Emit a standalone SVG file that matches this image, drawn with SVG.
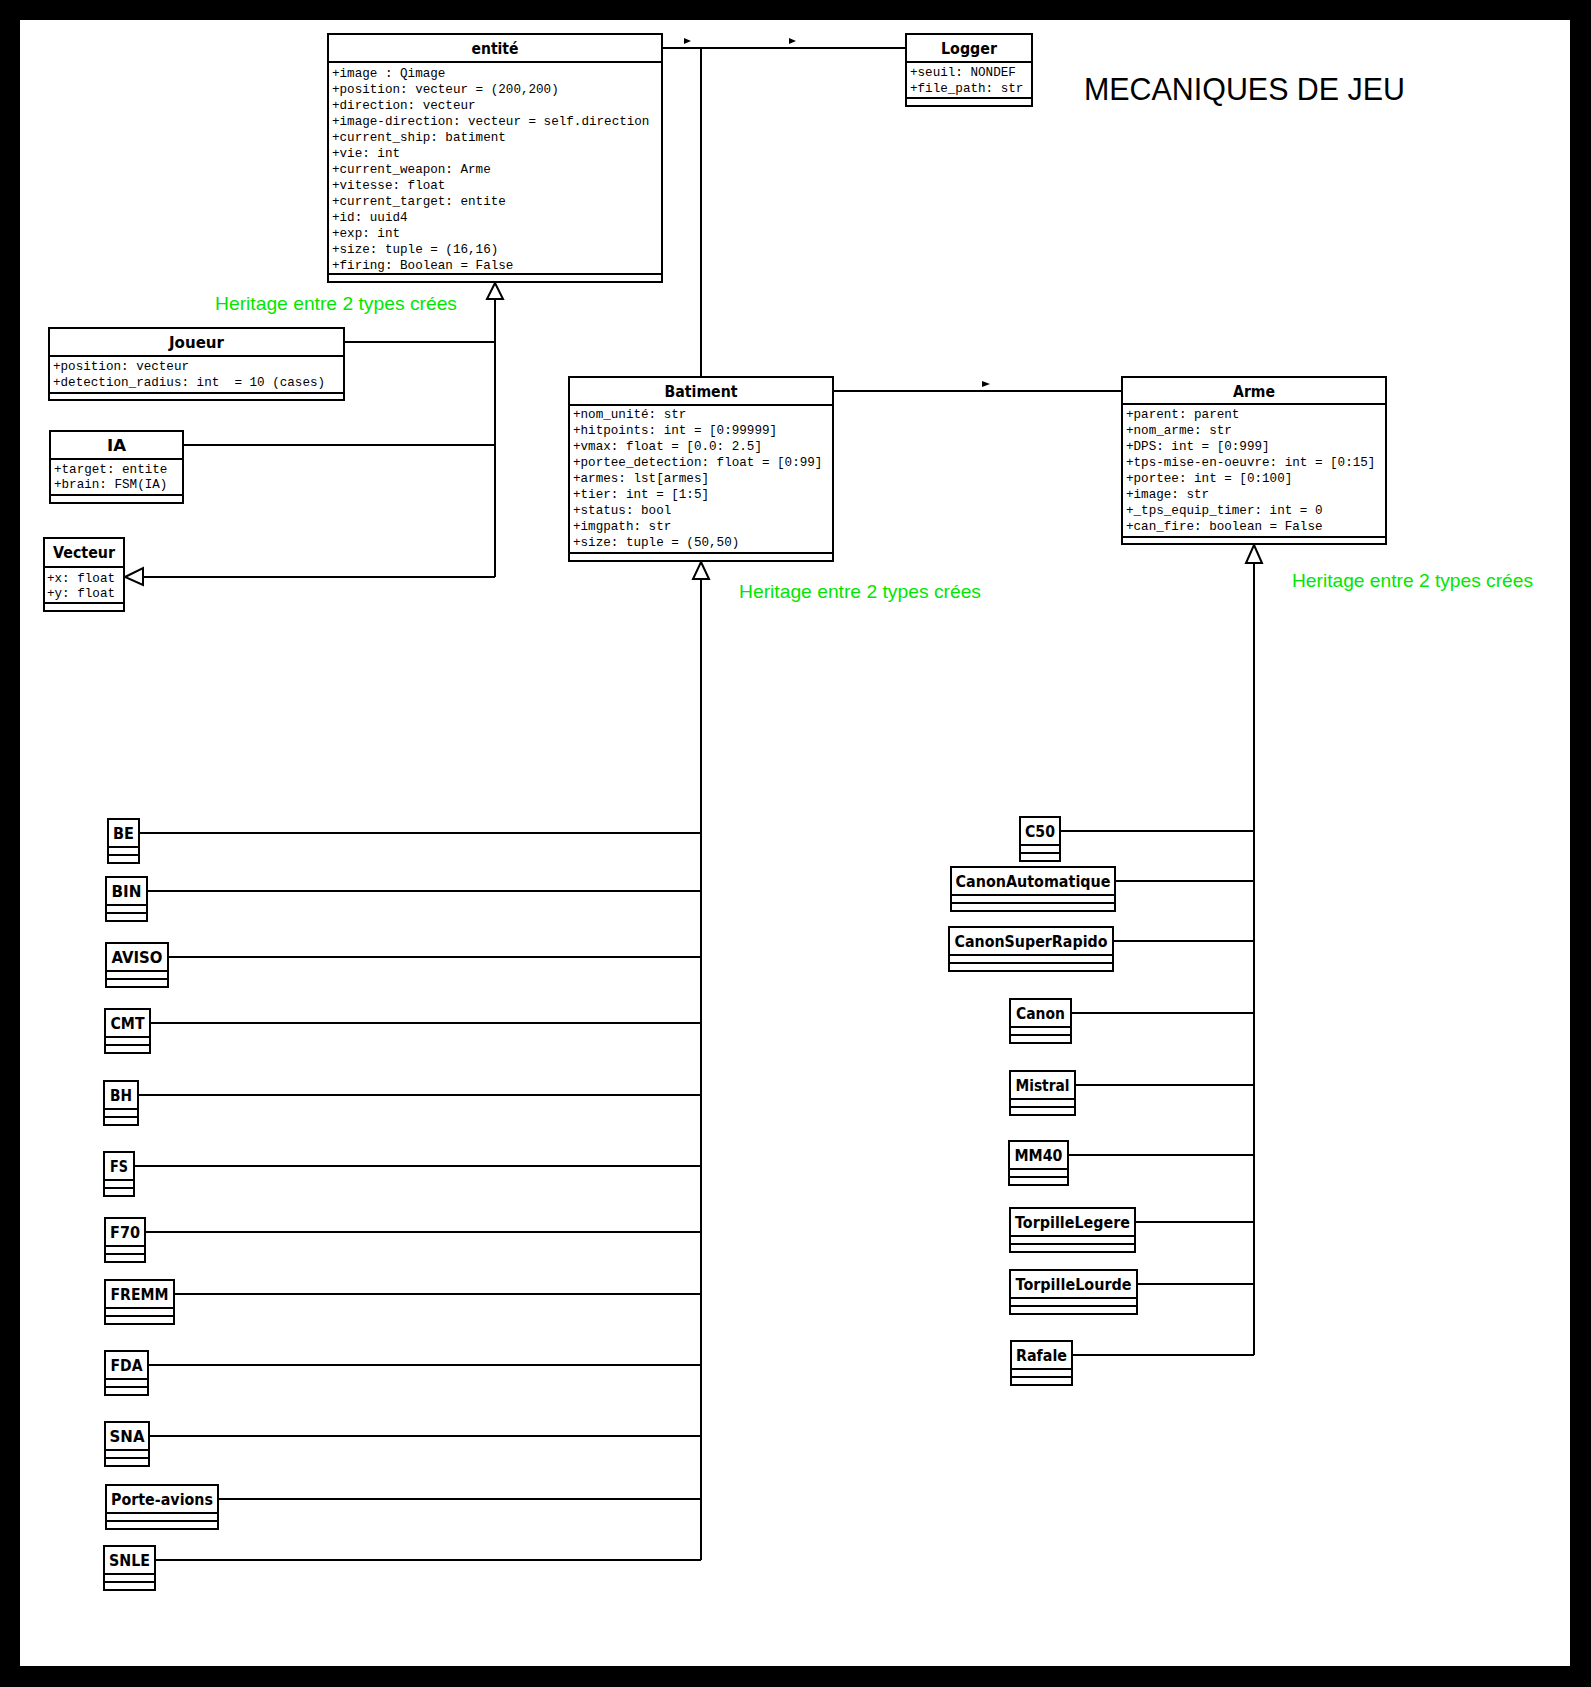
<svg xmlns="http://www.w3.org/2000/svg" width="1591" height="1687" viewBox="0 0 1591 1687">
<style>
.box{fill:#fff;stroke:#000;stroke-width:2}
.ln{stroke:#000;stroke-width:2;fill:none}
.t{font-family:"DejaVu Sans",Verdana,sans-serif;font-weight:bold;font-size:15px;text-anchor:middle;fill:#000}
.bt{font-size:16px}
.a{font-family:"Liberation Mono","Courier New",monospace;font-size:12.6px;fill:#000}
.g{font-family:"Liberation Sans",Arial,sans-serif;font-size:19px;fill:#00e600}
.h{fill:#fff;stroke:#000;stroke-width:2}
.f{fill:#000}
</style>
<rect x="0" y="0" width="1591" height="1687" fill="#000"/>
<rect x="20" y="20" width="1550" height="1646" fill="#fff"/>

<text x="1084" y="100" font-family="Liberation Sans, Arial, sans-serif" font-size="32" textLength="321" lengthAdjust="spacingAndGlyphs">MECANIQUES DE JEU</text>
<text class="g" x="215" y="310" textLength="242" lengthAdjust="spacingAndGlyphs">Heritage entre 2 types crées</text>
<text class="g" x="739" y="598" textLength="242" lengthAdjust="spacingAndGlyphs">Heritage entre 2 types crées</text>
<text class="g" x="1292" y="587" textLength="241" lengthAdjust="spacingAndGlyphs">Heritage entre 2 types crées</text>

<g id="connectors">
<path class="ln" d="M662 48H906M701 48V377"/>
<polygon class="f" points="684,38 691,41 684,44"/>
<polygon class="f" points="789,38 796,41 789,44"/>
<path class="ln" d="M833 391H1122"/>
<polygon class="f" points="982,381 990,384 982,387"/>
<path class="ln" d="M495 299V577M344 342H495M183 445H495M143 577H495"/>
<polygon class="h" points="495,283 503,299 487,299"/>
<polygon class="h" points="125,577 143,568 143,585"/>
<path class="ln" d="M701 579V1560M139 833H701M147 891H701M168 957H701M150 1023H701M138 1095H701M134 1166H701M145 1232H701M174 1294H701M148 1365H701M149 1436H701M218 1499H701M155 1560H701"/>
<polygon class="h" points="701,562 709,579 693,579"/>
<path class="ln" d="M1254 563V1355M1060 831H1254M1115 881H1254M1113 941H1254M1071 1013H1254M1075 1085H1254M1068 1155H1254M1135 1222H1254M1137 1284H1254M1072 1355H1254"/>
<polygon class="h" points="1254,545 1262,563 1246,563"/>
</g>

<g id="entite">
<rect class="box" x="328" y="34" width="334" height="248"/>
<path class="ln" d="M328 62H662M328 274H662"/>
<text class="t bt" x="495" y="54" textLength="47" lengthAdjust="spacingAndGlyphs">entité</text>
<text class="a" x="332" y="77">+image : Qimage</text>
<text class="a" x="332" y="93">+position: vecteur = (200,200)</text>
<text class="a" x="332" y="109">+direction: vecteur</text>
<text class="a" x="332" y="125">+image-direction: vecteur = self.direction</text>
<text class="a" x="332" y="141">+current_ship: batiment</text>
<text class="a" x="332" y="157">+vie: int</text>
<text class="a" x="332" y="173">+current_weapon: Arme</text>
<text class="a" x="332" y="189">+vitesse: float</text>
<text class="a" x="332" y="205">+current_target: entite</text>
<text class="a" x="332" y="221">+id: uuid4</text>
<text class="a" x="332" y="237">+exp: int</text>
<text class="a" x="332" y="253">+size: tuple = (16,16)</text>
<text class="a" x="332" y="269">+firing: Boolean = False</text>
</g>

<g id="logger">
<rect class="box" x="906" y="34" width="126" height="72"/>
<path class="ln" d="M906 62H1032M906 98H1032"/>
<text class="t bt" x="969" y="54" textLength="56" lengthAdjust="spacingAndGlyphs">Logger</text>
<text class="a" x="910" y="76">+seuil: NONDEF</text>
<text class="a" x="910" y="92">+file_path: str</text>
</g>

<g id="joueur">
<rect class="box" x="49" y="328" width="295" height="72"/>
<path class="ln" d="M49 356H344M49 393H344"/>
<text class="t bt" x="196.5" y="348" textLength="55" lengthAdjust="spacingAndGlyphs">Joueur</text>
<text class="a" x="53" y="370">+position: vecteur</text>
<text class="a" x="53" y="386" xml:space="preserve">+detection_radius: int  = 10 (cases)</text>
</g>

<g id="ia">
<rect class="box" x="50" y="431" width="133" height="72"/>
<path class="ln" d="M50 459H183M50 495H183"/>
<text class="t bt" x="116.5" y="451" textLength="19" lengthAdjust="spacingAndGlyphs">IA</text>
<text class="a" x="54" y="473">+target: entite</text>
<text class="a" x="54" y="488">+brain: FSM(IA)</text>
</g>

<g id="vecteur">
<rect class="box" x="44" y="538" width="80" height="73"/>
<path class="ln" d="M44 567H124M44 603H124"/>
<text class="t bt" x="84" y="558" textLength="62" lengthAdjust="spacingAndGlyphs">Vecteur</text>
<text class="a" x="47" y="582">+x: float</text>
<text class="a" x="47" y="597">+y: float</text>
</g>

<g id="batiment">
<rect class="box" x="569" y="377" width="264" height="184"/>
<path class="ln" d="M569 405H833M569 553H833"/>
<text class="t bt" x="701" y="397" textLength="73" lengthAdjust="spacingAndGlyphs">Batiment</text>
<text class="a" x="573" y="418">+nom_unité: str</text>
<text class="a" x="573" y="434">+hitpoints: int = [0:99999]</text>
<text class="a" x="573" y="450">+vmax: float = [0.0: 2.5]</text>
<text class="a" x="573" y="466">+portee_detection: float = [0:99]</text>
<text class="a" x="573" y="482">+armes: lst[armes]</text>
<text class="a" x="573" y="498">+tier: int = [1:5]</text>
<text class="a" x="573" y="514">+status: bool</text>
<text class="a" x="573" y="530">+imgpath: str</text>
<text class="a" x="573" y="546">+size: tuple = (50,50)</text>
</g>

<g id="arme">
<rect class="box" x="1122" y="377" width="264" height="167"/>
<path class="ln" d="M1122 404H1386M1122 537H1386"/>
<text class="t bt" x="1254" y="397" textLength="42" lengthAdjust="spacingAndGlyphs">Arme</text>
<text class="a" x="1126" y="418">+parent: parent</text>
<text class="a" x="1126" y="434">+nom_arme: str</text>
<text class="a" x="1126" y="450">+DPS: int = [0:999]</text>
<text class="a" x="1126" y="466">+tps-mise-en-oeuvre: int = [0:15]</text>
<text class="a" x="1126" y="482">+portee: int = [0:100]</text>
<text class="a" x="1126" y="498">+image: str</text>
<text class="a" x="1126" y="514">+_tps_equip_timer: int = 0</text>
<text class="a" x="1126" y="530">+can_fire: boolean = False</text>
</g>

<g id="BE"><rect class="box" x="108" y="819" width="31" height="44"/><path class="ln" d="M108 847H139M108 855H139"/><text class="t" x="123.5" y="839" textLength="21" lengthAdjust="spacingAndGlyphs">BE</text></g>
<g id="BIN"><rect class="box" x="106" y="877" width="41" height="44"/><path class="ln" d="M106 905H147M106 913H147"/><text class="t" x="126.5" y="897" textLength="30" lengthAdjust="spacingAndGlyphs">BIN</text></g>
<g id="AVISO"><rect class="box" x="106" y="943" width="62" height="44"/><path class="ln" d="M106 971H168M106 979H168"/><text class="t" x="137" y="963" textLength="51" lengthAdjust="spacingAndGlyphs">AVISO</text></g>
<g id="CMT"><rect class="box" x="105" y="1009" width="45" height="44"/><path class="ln" d="M105 1037H150M105 1045H150"/><text class="t" x="127.5" y="1029" textLength="34" lengthAdjust="spacingAndGlyphs">CMT</text></g>
<g id="BH"><rect class="box" x="104" y="1081" width="34" height="44"/><path class="ln" d="M104 1109H138M104 1117H138"/><text class="t" x="121" y="1101" textLength="22" lengthAdjust="spacingAndGlyphs">BH</text></g>
<g id="FS"><rect class="box" x="104" y="1152" width="30" height="44"/><path class="ln" d="M104 1180H134M104 1188H134"/><text class="t" x="119" y="1172" textLength="18" lengthAdjust="spacingAndGlyphs">FS</text></g>
<g id="F70"><rect class="box" x="105" y="1218" width="40" height="44"/><path class="ln" d="M105 1246H145M105 1254H145"/><text class="t" x="125" y="1238" textLength="30" lengthAdjust="spacingAndGlyphs">F70</text></g>
<g id="FREMM"><rect class="box" x="105" y="1280" width="69" height="44"/><path class="ln" d="M105 1308H174M105 1316H174"/><text class="t" x="139.5" y="1300" textLength="58" lengthAdjust="spacingAndGlyphs">FREMM</text></g>
<g id="FDA"><rect class="box" x="105" y="1351" width="43" height="44"/><path class="ln" d="M105 1379H148M105 1387H148"/><text class="t" x="126.5" y="1371" textLength="32" lengthAdjust="spacingAndGlyphs">FDA</text></g>
<g id="SNA"><rect class="box" x="105" y="1422" width="44" height="44"/><path class="ln" d="M105 1450H149M105 1458H149"/><text class="t" x="127" y="1442" textLength="35" lengthAdjust="spacingAndGlyphs">SNA</text></g>
<g id="Porte-avions"><rect class="box" x="106" y="1485" width="112" height="44"/><path class="ln" d="M106 1513H218M106 1521H218"/><text class="t" x="162" y="1505" textLength="102" lengthAdjust="spacingAndGlyphs">Porte-avions</text></g>
<g id="SNLE"><rect class="box" x="104" y="1546" width="51" height="44"/><path class="ln" d="M104 1574H155M104 1582H155"/><text class="t" x="129.5" y="1566" textLength="41" lengthAdjust="spacingAndGlyphs">SNLE</text></g>

<g id="C50"><rect class="box" x="1020" y="817" width="40" height="44"/><path class="ln" d="M1020 845H1060M1020 853H1060"/><text class="t" x="1040" y="837" textLength="30" lengthAdjust="spacingAndGlyphs">C50</text></g>
<g id="CanonAutomatique"><rect class="box" x="951" y="867" width="164" height="44"/><path class="ln" d="M951 895H1115M951 903H1115"/><text class="t" x="1033" y="887" textLength="155" lengthAdjust="spacingAndGlyphs">CanonAutomatique</text></g>
<g id="CanonSuperRapido"><rect class="box" x="949" y="927" width="164" height="44"/><path class="ln" d="M949 955H1113M949 963H1113"/><text class="t" x="1031" y="947" textLength="153" lengthAdjust="spacingAndGlyphs">CanonSuperRapido</text></g>
<g id="Canon"><rect class="box" x="1010" y="999" width="61" height="44"/><path class="ln" d="M1010 1027H1071M1010 1035H1071"/><text class="t" x="1040.5" y="1019" textLength="49" lengthAdjust="spacingAndGlyphs">Canon</text></g>
<g id="Mistral"><rect class="box" x="1010" y="1071" width="65" height="44"/><path class="ln" d="M1010 1099H1075M1010 1107H1075"/><text class="t" x="1042.5" y="1091" textLength="54" lengthAdjust="spacingAndGlyphs">Mistral</text></g>
<g id="MM40"><rect class="box" x="1009" y="1141" width="59" height="44"/><path class="ln" d="M1009 1169H1068M1009 1177H1068"/><text class="t" x="1038.5" y="1161" textLength="48" lengthAdjust="spacingAndGlyphs">MM40</text></g>
<g id="TorpilleLegere"><rect class="box" x="1010" y="1208" width="125" height="44"/><path class="ln" d="M1010 1236H1135M1010 1244H1135"/><text class="t" x="1072.5" y="1228" textLength="115" lengthAdjust="spacingAndGlyphs">TorpilleLegere</text></g>
<g id="TorpilleLourde"><rect class="box" x="1010" y="1270" width="127" height="44"/><path class="ln" d="M1010 1298H1137M1010 1306H1137"/><text class="t" x="1073.5" y="1290" textLength="116" lengthAdjust="spacingAndGlyphs">TorpilleLourde</text></g>
<g id="Rafale"><rect class="box" x="1011" y="1341" width="61" height="44"/><path class="ln" d="M1011 1369H1072M1011 1377H1072"/><text class="t" x="1041.5" y="1361" textLength="51" lengthAdjust="spacingAndGlyphs">Rafale</text></g>
</svg>
